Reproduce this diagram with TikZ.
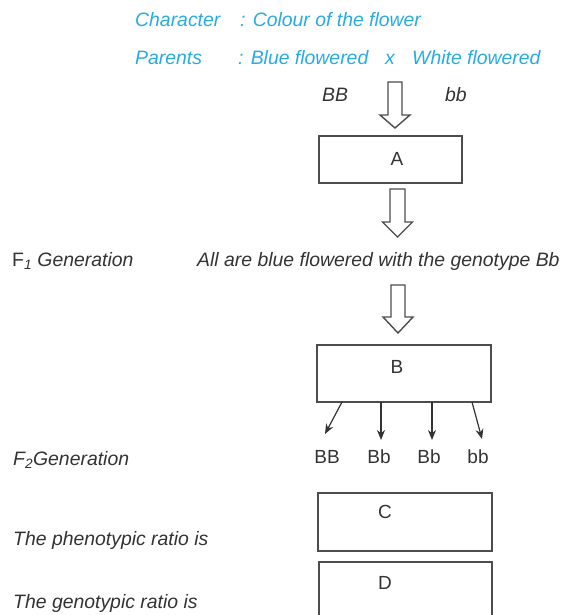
\documentclass[tikz,border=0pt]{standalone}
\usepackage{fontspec}
\setmainfont{Liberation Sans}
\usetikzlibrary{arrows.meta}
\definecolor{skyblue}{HTML}{29ABE2}
\definecolor{ink}{HTML}{333333}
\definecolor{frame}{HTML}{4D4D4D}
\tikzset{
  txt/.style={anchor=base west, inner sep=0pt, text=ink, font=\fontsize{19.4}{22}\selectfont\itshape},
  btxt/.style={txt, text=skyblue},
  lab/.style={anchor=base, inner sep=0pt, text=ink, font=\fontsize{19}{22}\selectfont},
  box/.style={draw=frame, line width=1.4pt, rectangle, inner sep=0pt},
  hollow/.style={draw=frame, line width=1.4pt, fill=white, line join=miter},
  conn/.style={draw=ink, line width=1.2pt, -{Stealth[length=10pt,width=8pt]}}
}
\begin{document}
\begin{tikzpicture}[x=1pt,y=-1pt]
\useasboundingbox (0,0) rectangle (560,615);
% header
\node[btxt] (char) at (135,27) {Character};
\node[btxt] (charv) at (240,27) {: Colour of the flower};
\node[btxt] (par) at (135,65) {Parents};
\node[btxt] (parv) at (238,65) {: Blue flowered};
\node[btxt] (cross) at (385,65) {x};
\node[btxt] (white) at (412,65) {White flowered};
\node[txt] (BBp) at (322,102) {BB};
\node[txt] (bbp) at (445,102) {bb};
% hollow arrow 1
\draw[hollow] (388,82) -- (402,82) -- (402,115) -- (410,115) -- (395,128) -- (380,115) -- (388,115) -- cycle;
% box A
\node[box, minimum width=143pt, minimum height=47pt] (A) at (390.5,159.5) {};
\node[lab] (Al) at (397,165) {A};
% hollow arrow 2
\draw[hollow] (390,189) -- (405,189) -- (405,222) -- (412.5,222) -- (397.5,237) -- (382.5,222) -- (390,222) -- cycle;
% F1
\node[txt, font=\fontsize{19.4}{22}\selectfont] (F1) at (12,266) {F\textsubscript{\itshape 1} \itshape Generation};
\node[txt] (all) at (197,266) {All are blue flowered with the genotype Bb};
% hollow arrow 3
\draw[hollow] (391,285) -- (405,285) -- (405,317) -- (413,317) -- (398,333) -- (383,317) -- (391,317) -- cycle;
% box B
\node[box, minimum width=174pt, minimum height=57pt] (B) at (404,373.5) {};
\node[lab] (Bl) at (397,373) {B};
% offspring
\coordinate (b1) at (342,402);
\coordinate (b2) at (381,402);
\coordinate (b3) at (432,402);
\coordinate (b4) at (472,402);
\coordinate (t1) at (325,434);
\coordinate (t2) at (381,440);
\coordinate (t3) at (432,440);
\coordinate (t4) at (482,439);
\draw[conn] (b1) -- (t1);
\draw[conn] (b2) -- (t2);
\draw[conn] (b3) -- (t3);
\draw[conn] (b4) -- (t4);
\node[lab] (o1) at (327,463) {BB};
\node[lab] (o2) at (379,463) {Bb};
\node[lab] (o3) at (429,463) {Bb};
\node[lab] (o4) at (478,463) {bb};
% F2
\node[txt] (F2) at (13,465) {F\textsubscript{2}Generation};
% box C
\node[box, minimum width=174pt, minimum height=58pt] (C) at (405,522) {};
\node[lab] (Cl) at (385,518) {C};
\node[txt] (pheno) at (13,545) {The phenotypic ratio is};
% box D
\node[box, minimum width=173pt, minimum height=80pt] (D) at (405.3,602) {};
\node[lab] (Dl) at (385,589) {D};
\node[txt] (geno) at (13,608) {The genotypic ratio is};
\end{tikzpicture}
\end{document}
